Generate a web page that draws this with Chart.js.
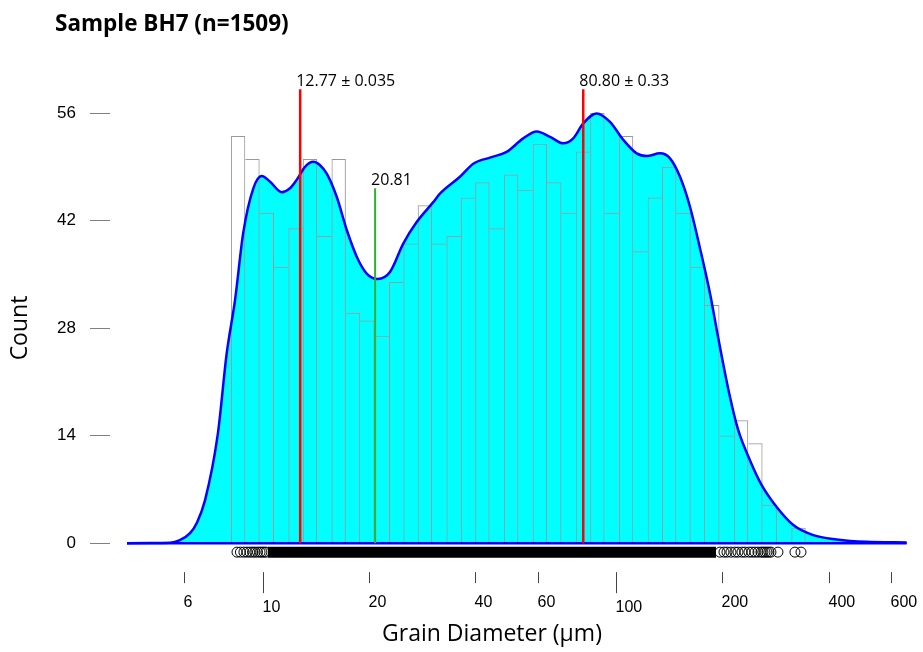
<!DOCTYPE html>
<html>
<head>
<meta charset="utf-8">
<script src="https://cdn.jsdelivr.net/npm/chart.js@4.4.0/dist/chart.umd.min.js"></script>
<style>
  html, body { margin: 0; padding: 0; background: #fff; }
  canvas { display: block; }
</style>
</head>
<body>
<canvas id="chart" width="923" height="652"></canvas>
<script>
// Histogram: 40 log-spaced bins between histLo and histHi (µm)
const histLo = 8.13;
const histHi = 344.4;
const histCounts = [53, 50, 43, 36, 41, 50, 40, 50, 30, 29,
                    27, 34, 39, 44, 39, 40, 45, 47, 41, 48,
                    46, 52, 47, 43, 51, 56, 43, 53, 38, 45,
                    49, 43, 36, 31, 14, 16, 13, 5, 0, 2];

// Density estimate, scaled to counts
const kdeDiameter = [4.13, 4.80, 5.47, 5.83, 6.23, 6.52, 6.87, 7.47, 7.91, 8.35, 8.81,
                     9.41, 9.94, 10.49, 11.32, 11.95, 12.48, 13.18, 13.91, 14.53, 15.18,
                     16.20, 17.29, 18.46, 19.70, 21.16, 22.93, 25.00, 27.29, 30.40, 31.76,
                     36.18, 39.47, 44.00, 49.05, 54.66, 59.65, 65.05, 70.93, 75.70, 80.80,
                     88.19, 96.17, 104.9, 114.4, 122.2, 133.2, 142.2, 151.8, 162.0, 172.9,
                     184.6, 194.8, 210.2, 221.9, 239.4, 258.5, 285.0, 317.6, 361.8, 421.4,
                     512.3, 665.0];
const kdeCount = [0, 0.01, 0.05, 0.4, 1.3, 2.7, 5.6, 14.3, 24.7, 31.6, 40.4,
                  46.2, 47.8, 47.05, 45.7, 46.2, 47.3, 49.0, 49.65, 49.2, 48.1,
                  45.1, 40.8, 37.3, 35.1, 34.4, 35.3, 39.0, 41.8, 44.4, 45.5,
                  47.7, 49.4, 50.2, 50.95, 52.7, 53.6, 52.9, 52.05, 52.7, 54.65,
                  55.95, 54.85, 52.5, 50.75, 50.4, 50.75, 50.1, 47.7, 43.8, 38.4,
                  32.5, 26.7, 19.05, 14.7, 10.8, 7.55, 4.7, 2.35, 1.04, 0.48,
                  0.17, 0.09];

// Peak ages and the valley between the two populations
const modeValues = [12.77, 80.80];
const modeLabels = ['12.77 ± 0.035', '80.80 ± 0.33'];
const splitValue = 20.81;
const splitLabel = '20.81';

// Rug: single grains at the sparse ends, the crowded middle merges into one band
const rugLeft = [8.46, 8.65, 8.85, 9.03, 9.20, 9.36, 9.51, 9.67, 9.83, 9.95, 10.08, 10.22];
const rugBand = [10.35, 191.9];
const rugRight = [197.0, 202.2, 206.2, 211.6, 217.2, 221.5, 227.3, 231.8, 237.9, 242.6,
                  247.4, 252.3, 257.3, 260.6, 264.1, 267.5, 271.0, 274.6, 287.4, 321.1, 334.0];

const xTicks = [6, 10, 20, 40, 60, 100, 200, 400, 600];
const xMajor = [10, 100];
const yTicks = [0, 14, 28, 42, 56];

const RUG_Y = -1.17;
const MODE_TOP = 59.1;
const SPLIT_TOP = 46.2;

const logLo = Math.log10(histLo);
const logStep = (Math.log10(histHi) - logLo) / histCounts.length;
const histData = histCounts.map((c, i) => ({ x: Math.pow(10, logLo + (i + 0.5) * logStep), y: c }));
const kdeData = kdeDiameter.map((d, i) => ({ x: d, y: kdeCount[i] }));
const rugPoints = rugLeft.concat(rugRight).map(d => ({ x: d, y: RUG_Y }));

function vline(x, top, color, width) {
  return {
    type: 'line',
    data: [{ x: x, y: 0 }, { x: x, y: top }],
    borderColor: color,
    borderWidth: width,
    pointRadius: 0,
    fill: false,
    order: 0
  };
}

const decor = {
  id: 'decor',
  afterDraw(chart) {
    const { ctx } = chart;
    const x = chart.scales.x;
    const y = chart.scales.y;
    ctx.save();
    ctx.fillStyle = '#000';

    ctx.font = 'bold 22.5px "Open Sans"';
    ctx.textAlign = 'left';
    ctx.textBaseline = 'middle';
    ctx.fillText('Sample BH7 (n=1509)', 55, 25);

    // log axis: long marks at the decades, labels hang to the right of each mark
    const y0 = y.getPixelForValue(0);
    ctx.strokeStyle = '#444';
    ctx.lineWidth = 1;
    ctx.font = '16px "Liberation Sans"';
    xTicks.forEach(v => {
      const px = Math.round(x.getPixelForValue(v)) + 0.5;
      const major = xMajor.includes(v);
      ctx.beginPath();
      ctx.moveTo(px, y0 + 29);
      ctx.lineTo(px, y0 + (major ? 50 : 40));
      ctx.stroke();
      ctx.fillText(String(v), px - 1, y0 + (major ? 64 : 59));
    });

    ctx.font = '23px "Open Sans"';
    ctx.textAlign = 'center';
    ctx.fillText('Grain Diameter (µm)', 492, 634);

    ctx.save();
    ctx.translate(20, 328);
    ctx.rotate(-Math.PI / 2);
    ctx.fillText('Count', 0, 0);
    ctx.restore();

    ctx.font = '16px "Open Sans"';
    ctx.textAlign = 'left';
    ctx.textBaseline = 'alphabetic';
    modeValues.forEach((v, i) => {
      ctx.fillText(modeLabels[i], x.getPixelForValue(v) - 4, y.getPixelForValue(MODE_TOP) - 3);
    });
    ctx.fillText(splitLabel, x.getPixelForValue(splitValue) - 4, y.getPixelForValue(SPLIT_TOP) - 3);
    ctx.restore();
  }
};

new Chart(document.getElementById('chart'), {
  type: 'bar',
  data: {
    datasets: [
      {
        type: 'bar',
        data: histData,
        backgroundColor: 'rgba(0,0,0,0)',
        borderColor: '#9a9a9a',
        borderWidth: ctx => {
          const i = ctx.dataIndex;
          const c = histCounts;
          return {
            top: 1,
            left: (i === 0 || c[i] > c[i - 1]) ? 1 : 0,
            right: (i === c.length - 1 || c[i] >= c[i + 1]) ? 1 : 0,
            bottom: 0
          };
        },
        barPercentage: 1,
        categoryPercentage: 1,
        inflateAmount: 0,
        order: 2
      },
      {
        type: 'line',
        data: kdeData,
        borderColor: '#0000FF',
        borderWidth: 2.5,
        backgroundColor: '#00FFFF',
        fill: 'origin',
        pointRadius: 0,
        cubicInterpolationMode: 'monotone',
        order: 1
      },
      {
        type: 'line',
        data: [{ x: kdeDiameter[0], y: 0 }, { x: kdeDiameter[kdeDiameter.length - 1], y: 0 }],
        borderColor: '#0000FF',
        borderWidth: 2.5,
        pointRadius: 0,
        fill: false,
        order: 1
      },
      vline(modeValues[0], MODE_TOP, '#FF0000', 2.5),
      vline(modeValues[1], MODE_TOP, '#FF0000', 2.5),
      vline(splitValue, SPLIT_TOP, '#33B033', 2),
      {
        type: 'line',
        data: [{ x: rugBand[0], y: RUG_Y }, { x: rugBand[1], y: RUG_Y }],
        borderColor: '#000',
        borderWidth: 11,
        borderCapStyle: 'butt',
        pointRadius: 0,
        fill: false,
        clip: false,
        order: 0
      },
      {
        type: 'line',
        data: rugPoints,
        showLine: false,
        pointRadius: 5,
        pointBorderWidth: 1,
        pointBorderColor: '#000',
        pointBackgroundColor: 'rgba(0,0,0,0)',
        clip: false,
        order: 0
      }
    ]
  },
  options: {
    responsive: false,
    animation: false,
    devicePixelRatio: 1,
    layout: { padding: { left: 0, right: 13, top: 80, bottom: 93.5 } },
    plugins: {
      legend: { display: false },
      tooltip: { enabled: false },
      filler: { drawTime: 'beforeDatasetsDraw' }
    },
    scales: {
      x: {
        type: 'logarithmic',
        min: 3.697,
        max: 679.7,
        bounds: 'data',
        offset: false,
        display: false,
        afterBuildTicks: scale => { scale.ticks = xTicks.map(v => ({ value: v })); }
      },
      y: {
        type: 'linear',
        min: -2,
        max: 60.3,
        bounds: 'data',
        afterBuildTicks: scale => { scale.ticks = yTicks.map(v => ({ value: v })); },
        afterFit: scale => { scale.width = 110; },
        border: { display: false },
        grid: { drawOnChartArea: false, drawTicks: true, tickLength: 20, color: '#808080' },
        ticks: {
          padding: 14,
          color: '#000',
          autoSkip: false,
          font: { family: 'Liberation Sans', size: 17 }
        }
      }
    }
  },
  plugins: [decor]
});
</script>
</body>
</html>
